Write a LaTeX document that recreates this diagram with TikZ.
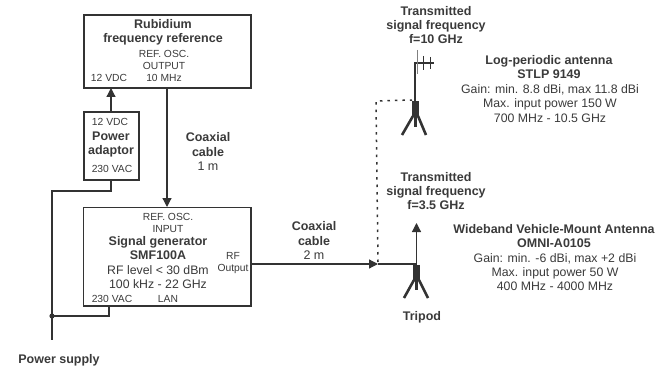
\documentclass[tikz,border=0pt]{standalone}
\usepackage{fontspec}
\setmainfont{Liberation Sans}
\usetikzlibrary{arrows.meta}
\definecolor{ink}{HTML}{333333}
\definecolor{txt}{HTML}{3A3A3A}
\tikzset{
 x=1pt,y=-1pt,
 wire/.style={draw=ink,line width=1.2pt},
 arr/.style={wire,-{Triangle[length=9pt,width=9pt]}},
 boxx/.style={draw=ink,line width=1.2pt,fill=white},
 lab/.style={text=txt,font=\fontsize{10.3}{12}\selectfont,align=center,inner sep=0pt},
 big/.style={text=txt,font=\fontsize{12.3}{14.3}\selectfont,align=center,inner sep=0pt},
 bold/.style={text=txt,font=\bfseries\fontsize{12.5}{14.3}\selectfont,align=center,inner sep=0pt},
 leg/.style={draw=ink,line width=2.6pt},
 mast/.style={fill=ink},
}
\begin{document}
\begin{tikzpicture}
\useasboundingbox (0,0) rectangle (670,369);
% boxes
\coordinate (rA) at (84,15); \coordinate (rB) at (251,88);
\coordinate (pA) at (84,112); \coordinate (pB) at (139,180);
\coordinate (sA) at (83.5,207.5); \coordinate (sB) at (251,306);
\draw[boxx] (rA) rectangle (rB);
\draw[boxx] (pA) rectangle (pB);
\draw[boxx] (sA) rectangle (sB);
% connectors
\coordinate (p12a) at (111,112); \coordinate (r12) at (111,88);
\coordinate (ca) at (167,88); \coordinate (cb) at (167,207);
\coordinate (pw) at (111,180); \coordinate (pw2) at (111,191); \coordinate (pw3) at (52,191);
\coordinate (bus) at (52,340); \coordinate (dot) at (52,316);
\coordinate (s230) at (109,306); \coordinate (s230b) at (109,316);
\coordinate (rf) at (251,264); \coordinate (sp) at (378,264); \coordinate (t2) at (416.5,264);
\coordinate (ant2) at (416.5,223);
\draw[arr] (p12a) -- (r12);
\draw[arr] (ca) -- (cb);
\draw[wire] (pw) -- (pw2) -- (pw3) -- (bus);
\draw[wire] (s230) -- (s230b) -- (dot);
\fill[ink] (dot) circle (2.6);
\draw[arr] (rf) -- (sp);
\draw[wire] (sp) -- (t2);
\draw[arr] (t2) -- (ant2);
\draw[ink,line width=1.5pt,dash pattern=on 2.5pt off 5pt] (378,262) -- (376,101) -- (412,100);
% antenna 1
\draw[wire] (415,101) -- (415,63) -- (434,63);
\draw[gray,line width=1pt] (417,50) -- (417,74);
\draw[ink,line width=.7pt] (423,56) -- (423,70);
\draw[ink,line width=.7pt] (430,57) -- (430,69);
\fill[mast] (412,101) rectangle (419,117);
\draw[leg] (413,116) -- (402,135);
\draw[leg] (418,116) -- (426,135);
\draw[leg] (415.5,116) -- (415.5,127);
% antenna 2
\fill[mast] (413,265) rectangle (420,281);
\draw[leg] (414,280) -- (404,298);
\draw[leg] (419,280) -- (428,298);
\draw[leg] (416.5,280) -- (416.5,290);
% texts
\node[bold] (t1) at (163,32) {Rubidium\\frequency reference};
\node[lab] (t2a) at (164,66) {REF. OSC.\\OUTPUT\\10 MHz};
\node[lab] (t3) at (109,77.5) {12 VDC};
\node[lab] (t4) at (110,122) {12 VDC};
\node[bold] (t5) at (111,144.5) {Power\\adaptor};
\node[lab] (t6) at (112,169) {230 VAC};
\node[bold] (t7) at (208,151.5) {Coaxial\\cable\\\mdseries 1 m};
\node[lab] (t8) at (168,222.5) {REF. OSC.\\INPUT};
\node[bold] (t9) at (158,248) {Signal generator\\SMF100A};
\node[big] (t10) at (158,277) {RF level < 30 dBm\\100 kHz - 22 GHz};
\node[lab] (t11) at (233,263) {RF\\Output};
\node[lab] (t12) at (112,299) {230 VAC};
\node[lab] (t13) at (168,299) {LAN};
\node[bold] (t14) at (59,360) {Power supply};
\node[bold] (t15) at (314,240.5) {Coaxial\\cable\\\mdseries 2 m};
\node[bold] (t16) at (436,25) {Transmitted\\signal frequency\\f=10 GHz};
\node[bold] (t17) at (436,191) {Transmitted\\signal frequency\\f=3.5 GHz};
\node[bold] (t18) at (422,317) {Tripod};
\node[bold] (t19) at (549,67) {Log-periodic antenna\\STLP 9149};
\node[big] (t20) at (550,103.5) {Gain: min. 8.8 dBi, max 11.8 dBi\\Max. input power 150 W\\700 MHz - 10.5 GHz};
\node[bold] (t21) at (554,236) {Wideband Vehicle-Mount Antenna\\OMNI-A0105};
\node[big] (t22) at (555,272) {Gain: min. -6 dBi, max +2 dBi\\Max. input power 50 W\\400 MHz - 4000 MHz};
\end{tikzpicture}
\end{document}
